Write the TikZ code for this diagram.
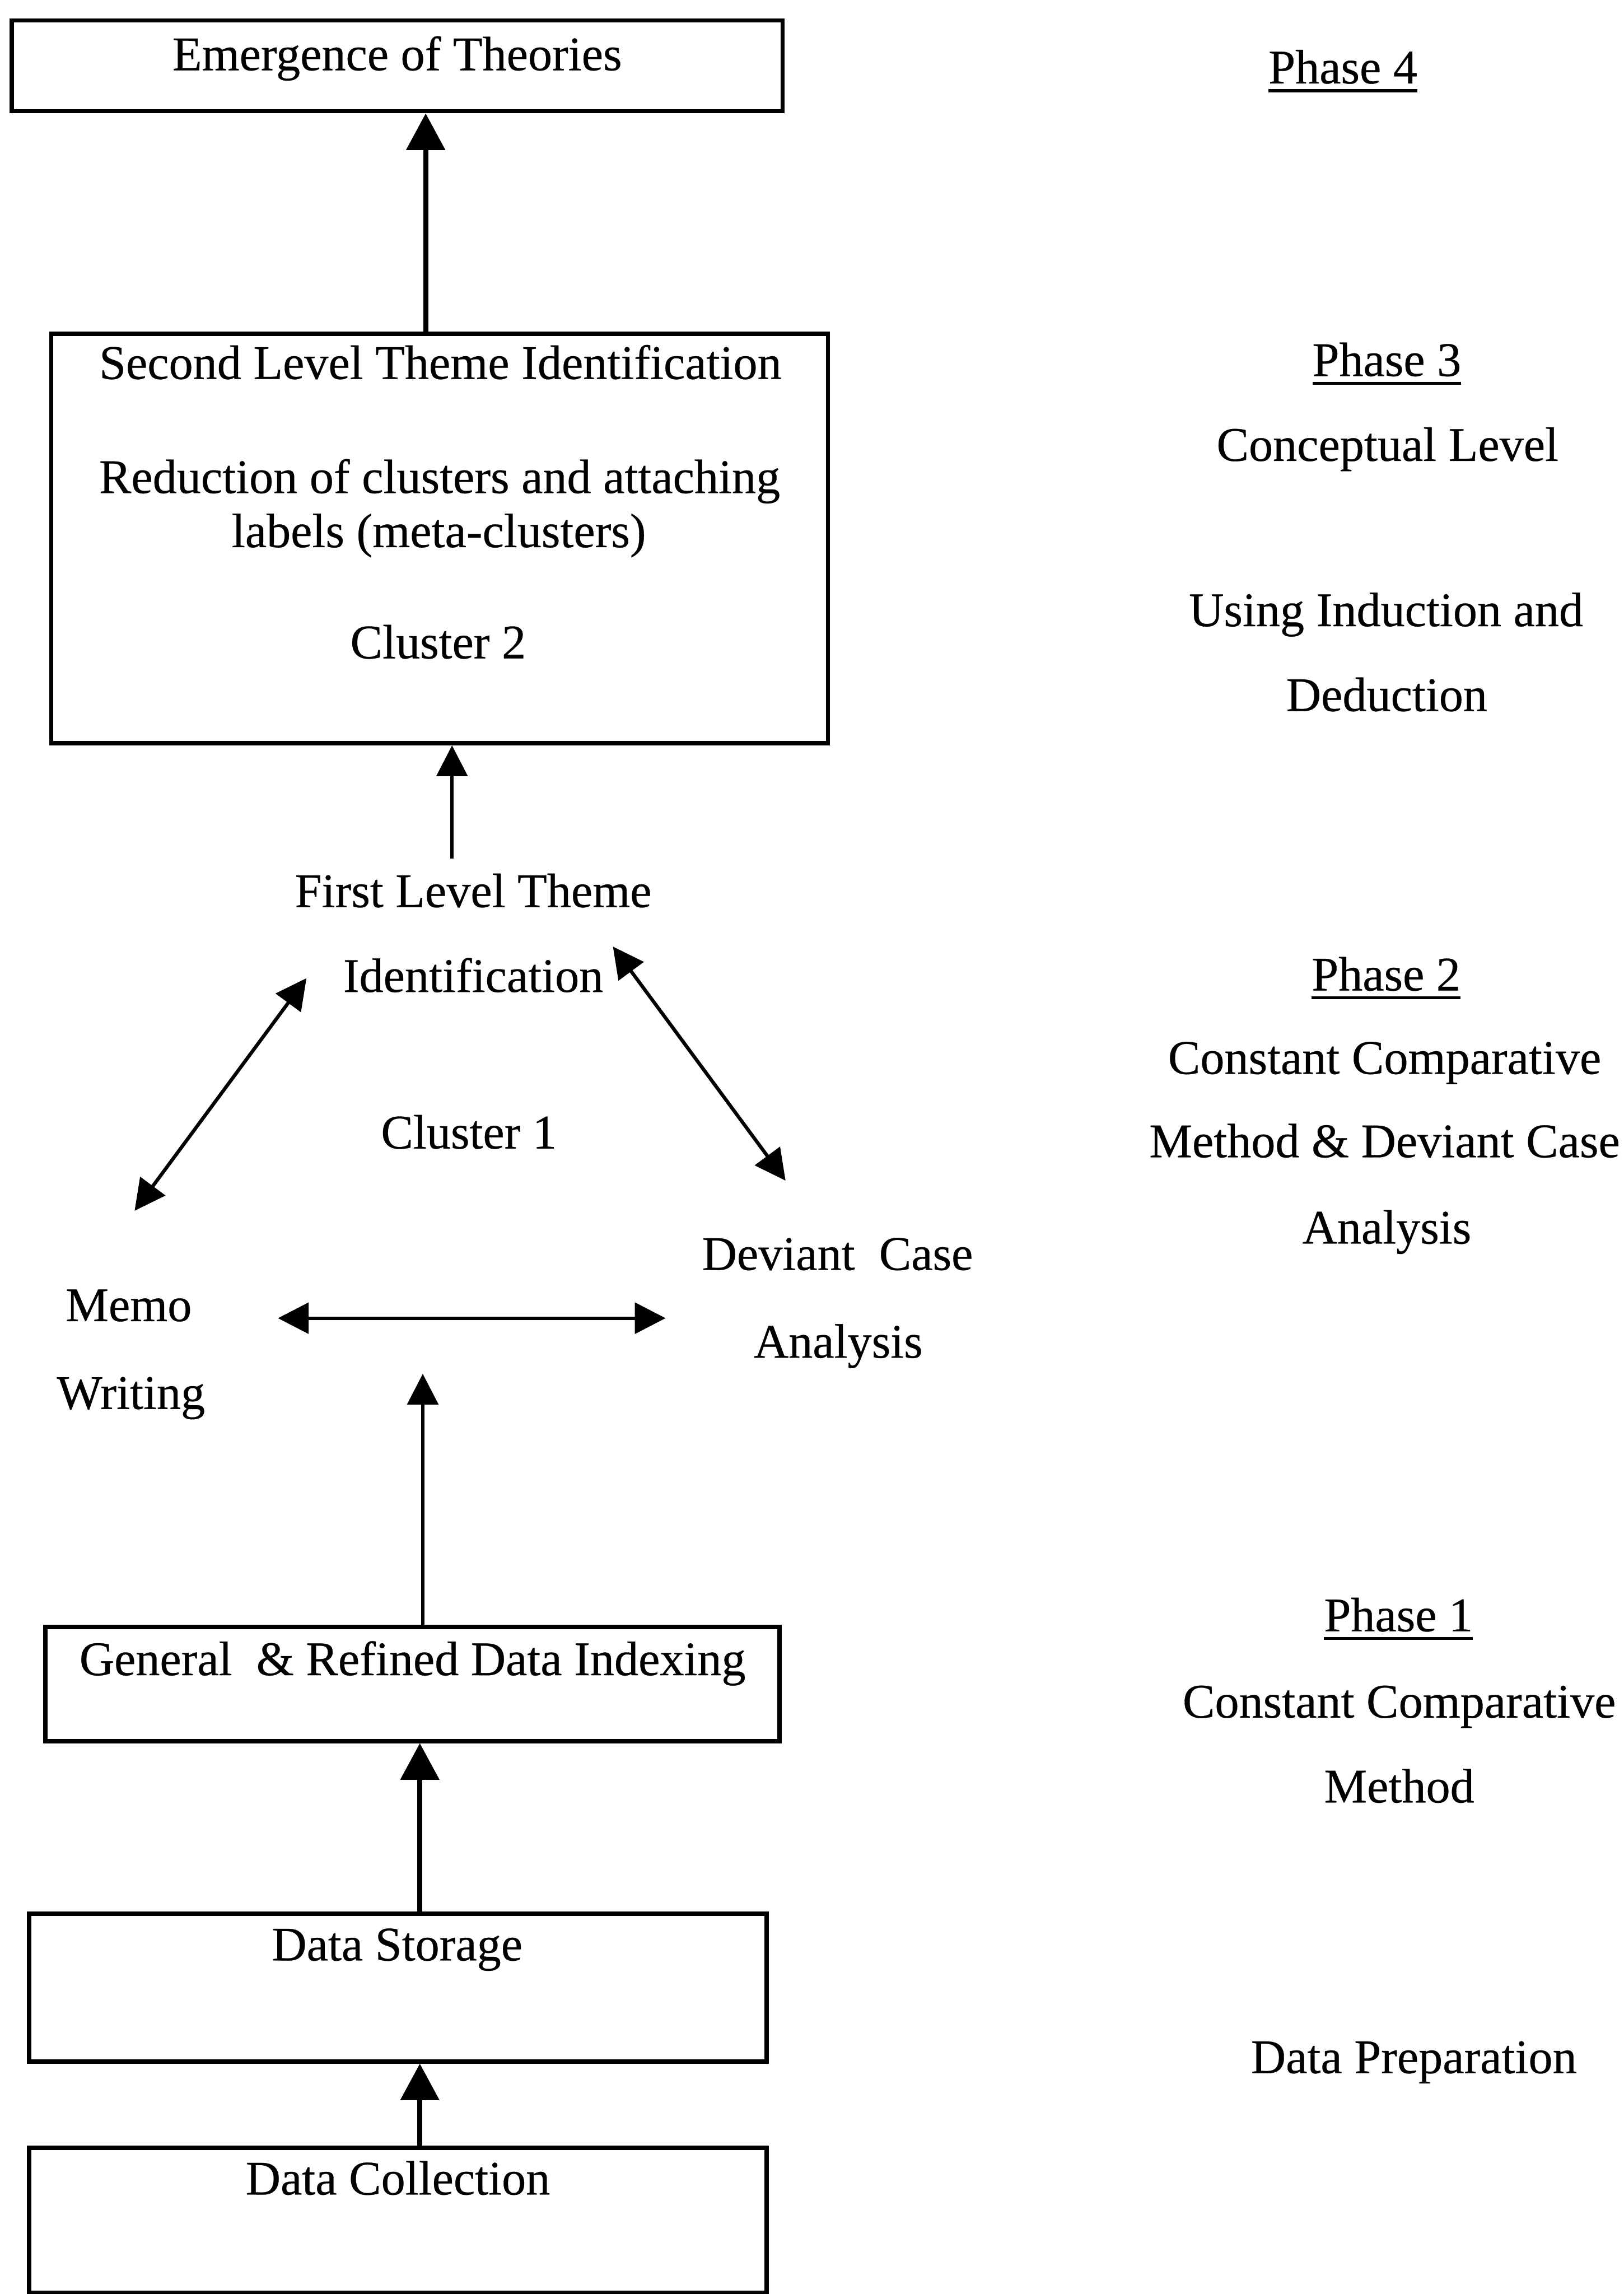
\documentclass[tikz,border=0pt]{standalone}
\usepackage{fontspec}
\setmainfont[FakeBold=0.35]{Liberation Serif}
\usetikzlibrary{arrows.meta,fit}

% a slightly heavier underline for the phase titles
\newcommand{\phaseline}[1]{\setbox0\hbox{#1}\rlap{\rule[-3pt]{\wd0}{1pt}}\box0}

\begin{document}
\begin{tikzpicture}[x=0.5pt,y=-0.5pt,
  lbl/.style={font=\fontsize{16.5}{20}\selectfont, anchor=base, inner sep=0pt},
  box/.style={draw, line width=1.5pt, inner sep=0pt},
  bigarr/.style={line width=1.7pt, -{Triangle[length=12.5pt,width=13pt]}},
  smallarr/.style={line width=1.2pt, -{Triangle[length=10.5pt,width=10.5pt]}},
  dblarr/.style={line width=1.2pt,
    {Triangle[length=10.5pt,width=10.5pt]}-{Triangle[length=10.5pt,width=10.5pt]}}]

\useasboundingbox (0,0) rectangle (1110,1568);

% ---- boxes ----
\node[box, fit={(8,14) (535,76)}] (emerg) {};
\node[box, fit={(35,228) (566,508)}] (second) {};
\node[box, fit={(31,1112) (533,1190)}] (general) {};
\node[box, fit={(20,1308) (524,1409)}] (storage) {};
\node[box, fit={(20,1468) (524,1567)}] (collection) {};

% ---- texts of the left column ----
\node[lbl] (tEmerg) at (271.5,48) {Emergence of Theories};
\node[lbl] (tSecond) at (301,259) {Second Level Theme Identification};
\node[lbl] (tReduct) at (300.5,337) {Reduction of clusters and attaching};
\node[lbl] (tLabels) at (300,374) {labels (meta-clusters)};
\node[lbl] (tCl2) at (299.5,450) {Cluster 2};
\node[lbl] (tFirst) at (323.5,620) {First Level Theme};
\node[lbl] (tIdent) at (323.5,678) {Identification};
\node[lbl] (tCl1) at (320.5,785) {Cluster 1};
\node[lbl] (tMemo) at (88,903) {Memo};
\node[lbl] (tWriting) at (89.5,963) {Writing};
\node[lbl] (tDeviant) at (572.5,868) {Deviant\ \ Case};
\node[lbl] (tAnalysis) at (573,928) {Analysis};
\node[lbl] (tGeneral) at (282,1145) {General\ \ \& Refined Data Indexing};
\node[lbl] (tStorage) at (271.5,1340) {Data Storage};
\node[lbl] (tCollect) at (272,1500) {Data Collection};

% ---- phase descriptions ----
\node[lbl] (p4) at (918,57) {\phaseline{Phase 4}};
\node[lbl] (p3) at (948,257) {\phaseline{Phase 3}};
\node[lbl] (p3a) at (948.5,315) {Conceptual Level};
\node[lbl] (p3b) at (947.5,428) {Using Induction and};
\node[lbl] (p3c) at (948,486) {Deduction};
\node[lbl] (p2) at (947.5,677) {\phaseline{Phase 2}};
\node[lbl] (p2a) at (946.5,734) {Constant Comparative};
\node[lbl] (p2b) at (946.5,791) {Method \& Deviant Case};
\node[lbl] (p2c) at (948,850) {Analysis};
\node[lbl] (p1) at (956,1115) {\phaseline{Phase 1}};
\node[lbl] (p1a) at (956.5,1174) {Constant Comparative};
\node[lbl] (p1b) at (956.5,1232) {Method};
\node[lbl] (p0) at (966.5,1417) {Data Preparation};

% ---- connector end points ----
\coordinate (xA) at (291,0);
\coordinate (xB) at (309,0);
\coordinate (xC) at (289,0);
\coordinate (xD) at (287,0);
\coordinate (firstFoot) at (309,587);
\coordinate (identL) at (209.5,668.6);
\coordinate (memoTop) at (92,827.6);
\coordinate (identR) at (419,647);
\coordinate (deviantTop) at (537,807);
\coordinate (memoR) at (190,901);
\coordinate (deviantL) at (455,901);
\coordinate (clusterFoot) at (289,939);

% ---- connectors ----
\draw[bigarr] (second.north -| xA) -- (emerg.south -| xA);
\draw[smallarr] (firstFoot) -- (second.south -| xB);
\draw[dblarr] (identL) -- (memoTop);
\draw[dblarr] (identR) -- (deviantTop);
\draw[dblarr] (memoR) -- (deviantL);
\draw[smallarr] (general.north -| xC) -- (clusterFoot);
\draw[bigarr] (storage.north -| xD) -- (general.south -| xD);
\draw[bigarr] (collection.north -| xD) -- (storage.south -| xD);

\end{tikzpicture}
\end{document}
